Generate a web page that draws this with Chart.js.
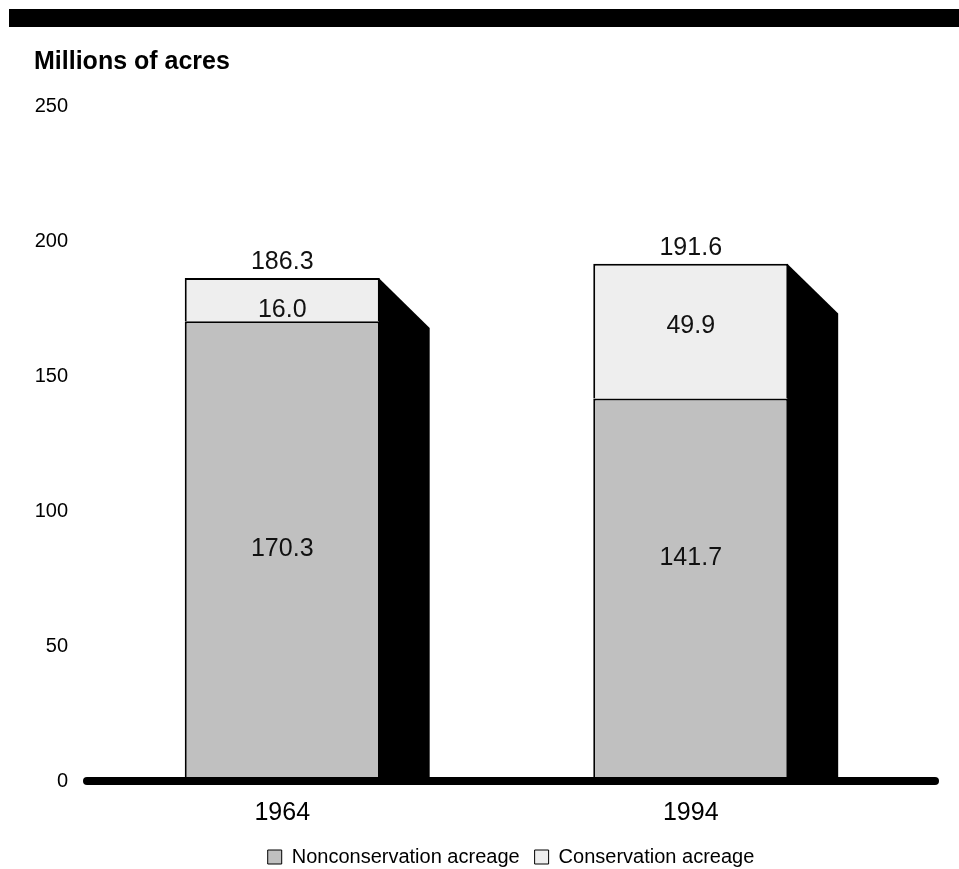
<!DOCTYPE html>
<html>
<head>
<meta charset="utf-8">
<title>Millions of acres</title>
<script src="https://cdn.jsdelivr.net/npm/chart.js@4"></script>
<style>
    html, body { margin: 0; padding: 0; background: #fff; overflow: hidden; }
    #topbar { position: absolute; left: 9px; top: 9px; width: 950px; height: 18px; background: #000; }
    #wrap { position: relative; width: 959px; height: 893px; }
</style>
</head>
<body>
<div id="wrap">
    <canvas id="acres-chart"></canvas>
</div>
<div id="topbar"></div>

<script>
// Datos
const years = ['1964', '1994'];
const nonconservation = [170.3, 141.7];
const conservation = [16.0, 49.9];
const totals = [186.3, 191.6];
const yTicks = [0, 50, 100, 150, 200, 250];

// pequeños ajustes verticales (px) de las etiquetas dentro de cada tramo
const labelNudge = [[-2, -32], [11, -5]];

const FONT = "'Liberation Sans', Arial, sans-serif";
Chart.defaults.font.family = FONT;
Chart.defaults.color = '#000';

// sombra negra a la derecha de cada barra (efecto 3D)
const shadowPlugin = {
    id: 'shadow',
    beforeDatasetsDraw(chart) {
        const ctx = chart.ctx;
        const top = chart.getDatasetMeta(1).data;
        const base = chart.scales.y.getPixelForValue(0);
        ctx.save();
        ctx.fillStyle = '#000';
        top.forEach(bar => {
            const right = bar.x + bar.width / 2;
            const d = bar.width * 0.256;
            ctx.beginPath();
            ctx.moveTo(right - 1, bar.y);
            ctx.lineTo(right + d, bar.y + d);
            ctx.lineTo(right + d, base);
            ctx.lineTo(right - 1, base);
            ctx.closePath();
            ctx.fill();
        });
        ctx.restore();
    }
};

// línea base gruesa y etiquetas de valores
const axisAndLabels = {
    id: 'axisAndLabels',
    afterLayout(chart) {
        // centrar la leyenda bajo la línea base y subirla un poco
        const lg = chart.legend;
        const a = chart.chartArea;
        const mid = (a.left + 9 + a.right + 40) / 2;
        const w = lg.width;
        lg.left = mid - w / 2;
        lg.right = mid + w / 2;
        lg.top -= 13;
        lg.bottom -= 13;
    },
    afterDatasetsDraw(chart) {
        const ctx = chart.ctx;
        const a = chart.chartArea;
        const y0 = chart.scales.y.getPixelForValue(0);
        ctx.save();
        ctx.strokeStyle = '#000';
        ctx.lineWidth = 8;
        ctx.lineCap = 'round';
        ctx.beginPath();
        ctx.moveTo(a.left + 9, y0);
        ctx.lineTo(a.right + 40, y0);
        ctx.stroke();

        ctx.fillStyle = '#111';
        ctx.font = '25px ' + FONT;
        ctx.textAlign = 'center';
        ctx.textBaseline = 'middle';
        chart.data.datasets.forEach((ds, di) => {
            chart.getDatasetMeta(di).data.forEach((bar, i) => {
                const cy = (bar.y + bar.base) / 2 + labelNudge[di][i];
                ctx.fillText(ds.data[i].toFixed(1), bar.x, cy);
            });
        });
        chart.getDatasetMeta(1).data.forEach((bar, i) => {
            ctx.fillText(totals[i].toFixed(1), bar.x, bar.y - 16);
        });
        ctx.restore();
    }
};

new Chart(document.getElementById('acres-chart').getContext('2d'), {
    type: 'bar',
    data: {
        labels: years,
        datasets: [
            {
                label: 'Nonconservation acreage',
                data: nonconservation,
                backgroundColor: '#c0c0c0',
                borderColor: '#000',
                borderWidth: 2
            },
            {
                label: 'Conservation acreage',
                data: conservation,
                backgroundColor: '#eeeeee',
                borderColor: '#000',
                borderWidth: 2
            }
        ]
    },
    options: {
        responsive: true,
        maintainAspectRatio: false,
        animation: false,
        layout: {
            padding: { left: 34, right: 64, top: 0, bottom: 3 }
        },
        datasets: {
            bar: { barPercentage: 0.4774, categoryPercentage: 1 }
        },
        plugins: {
            title: {
                display: true,
                text: 'Millions of acres',
                align: 'start',
                color: '#000',
                font: { size: 25, weight: 'bold' },
                padding: { top: 47.5, bottom: 28.5 }
            },
            legend: {
                position: 'bottom',
                labels: {
                    boxWidth: 14,
                    boxHeight: 14,
                    padding: 15,
                    color: '#000',
                    font: { size: 20 },
                    generateLabels(chart) {
                        return Chart.defaults.plugins.legend.labels.generateLabels(chart)
                            .map(item => Object.assign(item, { lineWidth: 1, strokeStyle: '#000' }));
                    }
                }
            },
            tooltip: { enabled: false }
        },
        scales: {
            x: {
                stacked: true,
                grid: { display: false, drawTicks: false },
                border: { display: false },
                ticks: {
                    color: '#000',
                    padding: 17,
                    font: { size: 25, lineHeight: '30px' }
                }
            },
            y: {
                stacked: true,
                min: 0,
                max: 250,
                grid: { display: false, drawTicks: false },
                border: { display: false },
                afterFit(scale) { scale.width = 44; },
                afterBuildTicks(scale) { scale.ticks = yTicks.map(v => ({ value: v })); },
                ticks: {
                    color: '#000',
                    padding: 10,
                    font: { size: 20 }
                }
            }
        }
    },
    plugins: [shadowPlugin, axisAndLabels]
});
</script>
</body>
</html>
